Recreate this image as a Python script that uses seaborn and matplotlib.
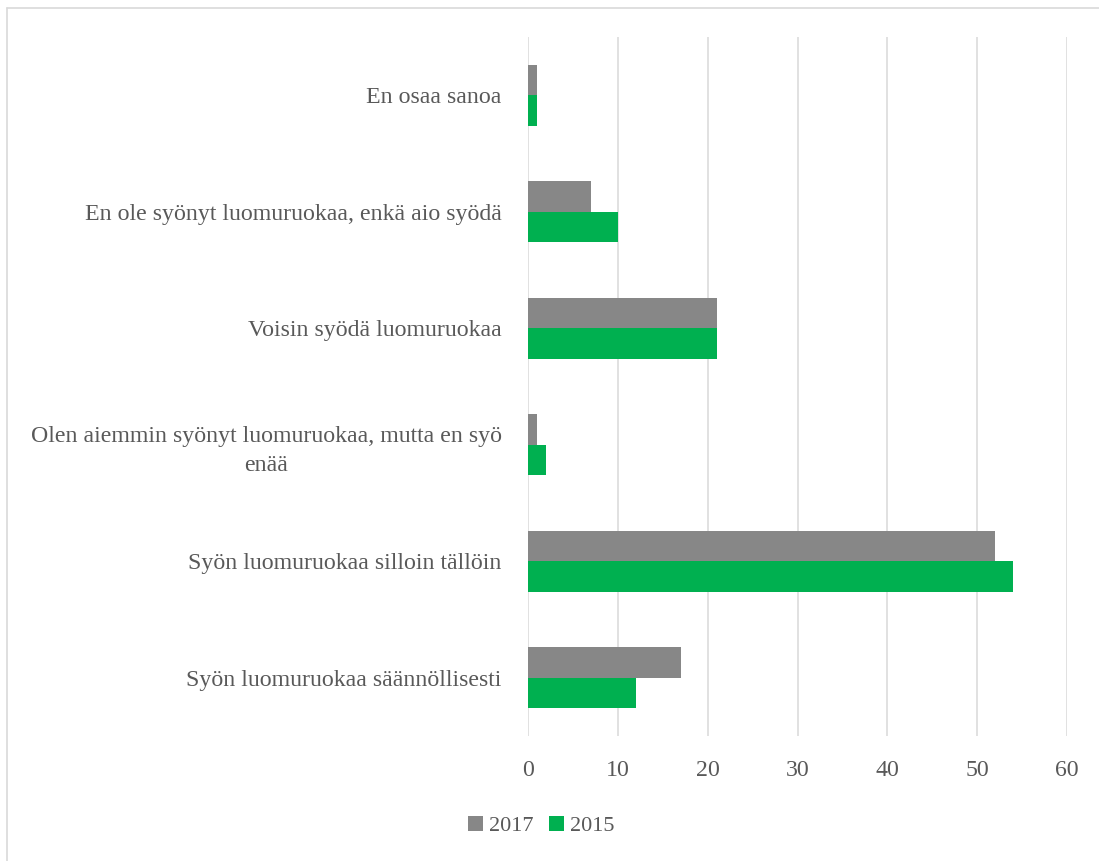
import matplotlib
matplotlib.use("Agg")
import matplotlib.pyplot as plt
import seaborn as sns
import pandas as pd
from matplotlib.lines import Line2D
from matplotlib.patches import Patch

categories = [
    "En osaa sanoa",
    "En ole syönyt luomuruokaa, enkä aio syödä",
    "Voisin syödä luomuruokaa",
    "Olen aiemmin syönyt luomuruokaa, mutta en syö\nenää",
    "Syön luomuruokaa silloin tällöin",
    "Syön luomuruokaa säännöllisesti",
]
values_2017 = [1, 7, 21, 1, 52, 17]
values_2015 = [1, 10, 21, 2, 54, 12]
years = ["2017", "2015"]
colors = {"2017": "#878787", "2015": "#00b050"}
xticks = [0, 10, 20, 30, 40, 50, 60]

df = pd.DataFrame({
    "cat": categories * 2,
    "year": ["2017"] * len(categories) + ["2015"] * len(categories),
    "val": values_2017 + values_2015,
})

sns.set_theme(style="white")
plt.rcParams["font.family"] = ["Liberation Serif", "DejaVu Serif"]
text_color = "#595959"
fs = 17.2

fig = plt.figure(figsize=(10.99, 8.61), dpi=100)
ax = fig.add_axes([528 / 1099, 1 - 736 / 861, (1067 - 528) / 1099, (736 - 37) / 861])

sns.barplot(data=df, y="cat", x="val", hue="year", order=categories, hue_order=years,
            palette=colors, orient="h", width=0.524, saturation=1, ax=ax, legend=False,
            edgecolor="none", linewidth=0)

ax.set_xlim(0, 60)
ax.set_ylim(len(categories) - 0.5, -0.5)
ax.set_xticks(xticks)
ax.set_xticklabels([str(t) for t in xticks])
ax.set_xlabel("")
ax.set_ylabel("")
ax.grid(axis="x", color="#d9d9d9", linewidth=1.1)
ax.grid(axis="y", visible=False)
ax.set_axisbelow(True)
for s in ax.spines.values():
    s.set_visible(False)
ax.tick_params(axis="both", length=0, labelsize=fs, labelcolor=text_color)
ax.tick_params(axis="y", pad=19)
ax.tick_params(axis="x", pad=17)

handles = [Patch(facecolor=colors[y], edgecolor="none", label=y) for y in years]
fig.legend(handles=handles, loc="center", bbox_to_anchor=(541 / 1099, 1 - 826 / 861),
           ncol=2, frameon=False, fontsize=16, labelcolor=text_color,
           handlelength=0.7, handleheight=0.7, handletextpad=0.25, columnspacing=0.7)

# outer chart border (top and left visible)
fig.add_artist(Line2D([7 / 1099, 7 / 1099], [0, 1 - 8 / 861], transform=fig.transFigure,
                      color="#d9d9d9", linewidth=1.2))
fig.add_artist(Line2D([7 / 1099, 1], [1 - 8 / 861, 1 - 8 / 861], transform=fig.transFigure,
                      color="#d9d9d9", linewidth=1.2))

fig.canvas.draw()
for tick in ax.yaxis.get_major_ticks():
    tick.label1.set_multialignment("center")
    tick.label1.set_linespacing(1.5)

fig.savefig("out.png", dpi=100)
